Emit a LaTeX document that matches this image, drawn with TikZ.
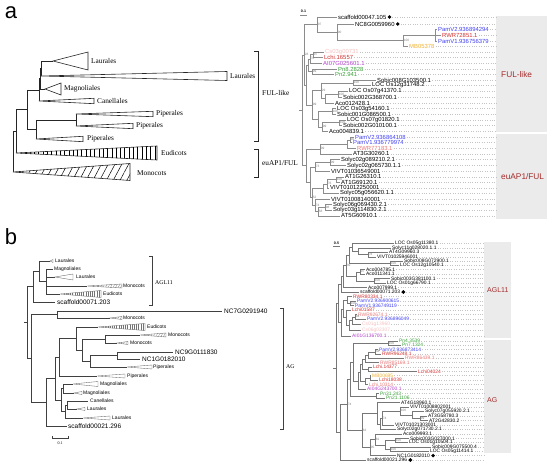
\documentclass[tikz,border=0pt]{standalone}
\usepackage{fontspec}
\setmainfont{Liberation Serif}
\newfontfamily\arialf{Liberation Sans}
\usetikzlibrary{patterns.meta}
\definecolor{cblue}{HTML}{4040F0}
\definecolor{cred}{HTML}{D03030}
\definecolor{cpink}{HTML}{E87878}
\definecolor{cpale}{HTML}{F6C0C0}
\definecolor{corange}{HTML}{F0B030}
\definecolor{cpurple}{HTML}{B040C8}
\definecolor{cgreen}{HTML}{38A038}
\definecolor{cbox}{HTML}{EBEBEB}
\definecolor{clab}{HTML}{A52A2A}
\definecolor{cbr}{HTML}{8C8C8C}
\definecolor{clead}{HTML}{C4C4C4}
\newcommand\myfs[1]{\fontsize{#1}{#1}\selectfont}
% clade: style, x, y1, y2, parent x
\newcommand\cl[5]{\draw[#1] (#2,#3) -- (#2,#4) (#5,{(#3+#4)/2}) -- (#2,{(#3+#4)/2});}
% leaf: name, parent x, y, text x, colour, text
\newcommand\lfa[6]{\draw[brA] (#2,#3) -- ({#4-0.6},#3); \node[lfA,text=#5] (#1) at (#4,#3) {#6}; \draw[leadA] ([xshift=1pt]#1.east) -- (496,#3);}
\newcommand\lfb[6]{\draw[brB] (#2,#3) -- ({#4-0.6},#3); \node[lfB,text=#5] (#1) at (#4,#3) {#6}; \draw[leadA] ([xshift=1pt]#1.east) -- (484,#3);}
\newcommand\bsv[3]{\node[bsf] at ({#1+0.6},#2) {#3};}
% triangle: style, apex x, y, base x, half height
\newcommand\tri[5]{\draw[#1] (#2,#3) -- (#4,{#3-#5}) -- (#4,{#3+#5}) -- cycle;}
\begin{document}
\begin{tikzpicture}[x=1pt,y=-1pt,
  brA/.style={draw=cbr, line width=0.45pt},
  brB/.style={draw=cbr!85!black, line width=0.45pt},
  leadA/.style={draw=clead, dotted, line width=0.4pt},
  lfA/.style={anchor=west, inner sep=0pt, font=\arialf\myfs{5.9}},
  lfB/.style={anchor=west, inner sep=0pt, font=\arialf\myfs{4.9}},
  bsf/.style={anchor=west, inner sep=0pt, font=\arialf\myfs{3.2}, text=gray},
  trA/.style={draw=black!85, line width=0.6pt},
  trB/.style={draw=black!75, line width=0.5pt},
  labA/.style={anchor=west, inner sep=0pt, font=\myfs{7.3}},
  labB/.style={anchor=west, inner sep=0pt, font=\arialf\myfs{5}},
  nmB/.style={anchor=west, inner sep=0pt, font=\arialf\myfs{6.5}},
  brk/.style={draw=black!85, line width=0.6pt},
  grpA/.style={anchor=west, inner sep=0pt, font=\arialf\myfs{8.3}, text=clab},
  grpB/.style={anchor=west, inner sep=0pt, font=\arialf\myfs{7}, text=clab},
  hv/.style={trA, fill=white, postaction={pattern={Lines[angle=90,distance=4.3pt,line width=0.5pt]}}},
  hd/.style={trA, fill=white, postaction={pattern={Lines[angle=62,distance=6pt,line width=0.5pt]}}},
  hvs/.style={trB, draw=black!60, line width=0.35pt, fill=white, postaction={pattern={Lines[angle=90,distance=2.2pt,line width=0.25pt]}, pattern color=black!55}},
  hds/.style={trB, draw=black!60, line width=0.35pt, fill=white, postaction={pattern={Lines[angle=60,distance=2.2pt,line width=0.25pt]}, pattern color=black!55}},
  pt/.style={trA, fill=white},
  pts/.style={trB, draw=black!60, line width=0.35pt, fill=white},
  dotb/.style={fill=black}
]
\useasboundingbox (0,0) rectangle (550,470);
% ---------- panel labels
\node[anchor=base, inner sep=0pt, font=\arialf\myfs{22}] (pa) at (11,19) {a};
\node[anchor=base, inner sep=0pt, font=\arialf\myfs{22}] (pb) at (11,245) {b};

% ================= panel a, left tree
\cl{trA}{41}{61}{76}{40}
\cl{trA}{40}{68.5}{89}{39}
\cl{trA}{39}{78.75}{101}{27}
\cl{trA}{76}{114}{126}{36}
\cl{trA}{36}{120}{139}{27}
\cl{trA}{27}{89.9}{129.5}{16}
\cl{trA}{16}{109.7}{153}{13}
\cl{trA}{13}{131.35}{172}{13}
\draw[trA] (41,61) -- (53,61);
\tri{pt}{53}{61}{88}{9}
\tri{pt}{41}{76}{227}{4.5}
\draw[trA] (40,89) -- (45,89);
\tri{pt}{45}{89}{61}{6}
\tri{pt}{39}{101}{94}{2.7}
\tri{pt}{76}{114}{153}{2.7}
\tri{pt}{76}{126}{133}{2.7}
\tri{pt}{36}{139}{83}{2.7}
\tri{hv}{16}{153}{157}{7}
\tri{hd}{13}{172}{130}{8.5}
\node[labA] (al1) at (91,61) {Laurales};
\node[labA] (al2) at (230,76) {Laurales};
\node[labA] (al3) at (64,89) {Magnoliales};
\node[labA] (al4) at (97,101) {Canellales};
\node[labA] (al5) at (156,114) {Piperales};
\node[labA] (al6) at (136,126) {Piperales};
\node[labA] (al7) at (87,139) {Piperales};
\node[labA] (al8) at (161,153) {Eudicots};
\node[labA] (al9) at (137,173) {Monocots};
\draw[brk] (254,51) -- (258,51) -- (258,141) -- (254,141);
\draw[brk] (254,149) -- (258,149) -- (258,177) -- (254,177);
\node[labA] (afl) at (262,93) {FUL-like};
\node[labA] (aeu) at (262,163) {euAP1/FUL};

% ================= panel a, right tree
\fill[cbox] (496,16) rectangle (547,132);
\fill[cbox] (496,134) rectangle (547,219);
\node[grpA] (fulR) at (501,75) {FUL-like};
\node[grpA] (euR) at (501,177) {euAP1/FUL};
\draw[brA] (300,15) -- (307,15);
\node[anchor=base, inner sep=0pt, font=\arialf\bfseries\myfs{3.6}] (scA) at (303.5,13) {0.1};
\lfa{aR1}{317}{17}{338}{black}{scaffold00047.105}
\lfa{aR2}{337}{24}{355}{black}{NC8G0059960}
\lfa{aR3}{435}{29}{438}{cblue}{PamV2.936894294}
\lfa{aR4}{435}{35}{442}{cred}{RWR72851.1}
\lfa{aR5}{435}{41}{438}{cblue}{PamV1.936756379}
\lfa{aR6}{403}{46}{409}{corange}{MB05378}
\lfa{aR7}{313}{52}{325}{cpale}{Cs03g00731}
\lfa{aR8}{313}{57}{324}{cred}{Lchi.16557}
\lfa{aR9}{310}{63}{323}{cpurple}{AI07G025601.1}
\lfa{aR10}{312}{69}{338}{cgreen}{Pn8.2828}
\lfa{aR11}{312}{74}{335}{cgreen}{Pn2.941}
\lfa{aR12}{353}{80}{377}{black}{Sobic008G103500.1}
\lfa{aR13}{353}{85.5}{372}{black}{LOC Os12g31748.2}
\lfa{aR14}{338}{91.5}{349}{black}{LOC Os07g41370.1}
\lfa{aR15}{338}{97}{343}{black}{Sobic002G368700.1}
\lfa{aR16}{325}{103}{335}{black}{Aco012428.1}
\lfa{aR17}{332}{108.7}{337}{black}{LOC Os03g54160.1}
\lfa{aR18}{332}{114.2}{337}{black}{Sobic001G086500.1}
\lfa{aR19}{339}{119.8}{347}{black}{LOC Os07g01820.1}
\lfa{aR20}{339}{125.4}{343}{black}{Sobic002G010100.1}
\lfa{aR21}{322}{131}{329}{black}{Aco004839.1}
\lfa{aR22}{350}{137}{355}{cblue}{PamV2.936864108}
\lfa{aR23}{350}{142.6}{353}{cblue}{PamV1.936779974}
\lfa{aR24}{347}{148.2}{357}{cpink}{RWR77183.1}
\lfa{aR25}{320}{153.8}{353}{black}{AT3G30260.1}
\lfa{aR26}{330}{159.6}{341}{black}{Solyc02g089210.2.1}
\lfa{aR27}{330}{165.5}{347}{black}{Solyc02g065730.1.1}
\lfa{aR28}{315}{171.2}{331}{black}{VIVT01036549001}
\lfa{aR29}{336}{176.9}{345}{black}{AT1G26310.1}
\lfa{aR30}{336}{182.4}{341}{black}{AT1G69120.1}
\lfa{aR31}{327}{187.9}{330}{black}{VIVT01012250001}
\lfa{aR32}{323}{193.4}{340}{black}{Solyc05g056620.1.1}
\lfa{aR33}{315}{199}{331}{black}{VIVT01008140001}
\lfa{aR34}{325}{204.6}{333}{black}{Solyc06g069430.2.1}
\lfa{aR35}{325}{210.2}{333}{black}{Solyc03g114830.2.1}
\lfa{aR36}{318}{215.8}{341}{black}{AT5G60910.1}
\fill[dotb] ([xshift=3pt]aR1.east) circle (1.9pt);
\fill[dotb] ([xshift=3pt]aR2.east) circle (1.9pt);
\cl{brA}{435}{29}{41}{403}
\cl{brA}{403}{35}{46}{337}
\cl{brA}{337}{24}{40.5}{317}
\cl{brA}{317}{17}{32.25}{304}
\cl{brA}{313}{52}{57}{310}
\cl{brA}{310}{54.5}{63}{308}
\cl{brA}{312}{69}{74}{308}
\cl{brA}{308}{58.75}{71.5}{306}
\cl{brA}{353}{80}{85.5}{321}
\cl{brA}{338}{91.5}{97}{325}
\cl{brA}{325}{94.25}{103}{321}
\cl{brA}{321}{82.75}{98.63}{312}
\cl{brA}{332}{108.7}{114.2}{318}
\cl{brA}{339}{119.8}{125.4}{322}
\cl{brA}{322}{122.6}{131}{318}
\cl{brA}{318}{111.45}{126.8}{312}
\cl{brA}{312}{90.69}{119.13}{306}
\cl{brA}{306}{65.125}{104.91}{304}
\cl{brA}{304}{24.625}{85.02}{302}
\cl{brA}{350}{137}{142.6}{347}
\cl{brA}{347}{139.8}{148.2}{320}
\cl{brA}{320}{144}{153.8}{306}
\cl{brA}{330}{159.6}{165.5}{315}
\cl{brA}{315}{162.55}{171.2}{310}
\cl{brA}{336}{176.9}{182.4}{327}
\cl{brA}{327}{179.65}{187.9}{323}
\cl{brA}{323}{183.78}{193.4}{312}
\cl{brA}{325}{204.6}{210.2}{318}
\cl{brA}{318}{207.4}{215.8}{315}
\cl{brA}{315}{199}{211.6}{312}
\cl{brA}{312}{188.59}{205.3}{310}
\cl{brA}{310}{166.88}{196.95}{306}
\cl{brA}{306}{148.9}{181.91}{302}
\cl{brA}{302}{54.82}{165.4}{299}
\bsv{317}{24.6}{97}
\bsv{337}{32.3}{90}
\bsv{403}{40.5}{100}
\bsv{304}{54.8}{28}
\bsv{313}{54.5}{97}
\bsv{310}{58.8}{78}
\bsv{312}{71.5}{99}
\bsv{353}{82.75}{100}
\bsv{321}{90.7}{29}
\bsv{338}{94.25}{100}
\bsv{312}{104.9}{99}
\bsv{332}{111.45}{100}
\bsv{339}{122.6}{100}
\bsv{322}{126.8}{99}
\bsv{350}{139.8}{92}
\bsv{320}{148.9}{99}
\bsv{330}{162.55}{99}
\bsv{315}{166.9}{73}
\bsv{336}{179.65}{100}
\bsv{327}{183.8}{76}
\bsv{312}{196.95}{52}
\bsv{325}{207.4}{98}
\bsv{318}{211.6}{58}
\bsv{315}{205.3}{74}

% ================= panel b, left tree
\cl{trB}{46}{269}{294}{39}
\cl{trB}{39}{261}{281.5}{33}
\cl{trB}{33}{271.25}{302}{27}
\cl{trB}{57}{311}{318}{31}
\cl{trB}{105}{335}{343}{82}
\cl{trB}{117}{352}{359}{90}
\cl{trB}{90}{355.5}{367}{82}
\cl{trB}{82}{339}{361.25}{76}
\cl{trB}{76}{327}{350.1}{59}
\cl{trB}{59}{338.6}{376}{55}
\cl{trB}{63}{384}{393}{61}
\cl{trB}{67}{401}{409}{65}
\cl{trB}{65}{405}{418}{61}
\cl{trB}{61}{388.5}{411.5}{55}
\cl{trB}{55}{357.3}{400}{46}
\cl{trB}{46}{378.6}{426}{31}
\cl{trB}{31}{314.5}{402.3}{27}
\cl{trB}{27}{286.6}{358.4}{24}
\draw[trB] (39,261) -- (50,261);  \tri{pts}{50}{261}{53}{1.5}
\draw[trB] (46,269) -- (53,269);
\draw[trB] (46,277) -- (55,277);  \tri{pts}{55}{277}{73}{3}
\draw[trB] (46,286) -- (87,286);  \tri{hds}{87}{286}{122}{2}
\draw[trB] (46,294) -- (60,294);  \tri{hvs}{60}{294}{101}{3.5}
\draw[trB] (33,302) -- (55,302);
\draw[trB] (57,311) -- (222,311);
\draw[trB] (57,318) -- (110,318); \tri{hds}{110}{318}{122}{1.5}
\draw[trB] (76,327) -- (98,327);  \tri{hvs}{98}{327}{145}{3.5}
\draw[trB] (105,335) -- (140,335); \tri{hds}{140}{335}{166}{2}
\draw[trB] (105,343) -- (117,343); \tri{hds}{117}{343}{128}{1.5}
\draw[trB] (117,352) -- (173,352);
\draw[trB] (117,359) -- (140,359);
\draw[trB] (90,367) -- (127,367);  \tri{pts}{127}{367}{152}{2}
\draw[trB] (59,376) -- (97,376);   \tri{pts}{97}{376}{125}{2}
\draw[trB] (63,384) -- (73,384);   \tri{pts}{73}{384}{98}{2.5}
\draw[trB] (63,393) -- (74,393);   \tri{pts}{74}{393}{82}{1.5}
\draw[trB] (67,401) -- (88,401);
\draw[trB] (67,409) -- (77,409);   \tri{pts}{77}{409}{85}{1.5}
\draw[trB] (65,418) -- (83,418);   \tri{pts}{83}{418}{110}{2}
\draw[trB] (46,426) -- (67,426);
\node[labB] (bl1) at (55,261) {Laurales};
\node[labB] (bl2) at (54,269) {Magnoliales};
\node[labB] (bl3) at (76,277) {Laurales};
\node[labB] (bl4) at (123,286) {Monocots};
\node[labB] (bl5) at (103,294) {Eudicots};
\node[nmB] (bl6) at (57,302) {scaffold00071.203};
\node[nmB] (bl7) at (224,311) {NC7G0291940};
\node[labB] (bl8) at (123,318) {Monocots};
\node[labB] (bl9) at (147,327) {Eudicots};
\node[labB] (bl10) at (168,335) {Monocots};
\node[labB] (bl11) at (130,343) {Monocots};
\node[nmB] (bl12) at (175,352) {NC9G0111830};
\node[nmB] (bl13) at (142,359) {NC1G0182010};
\node[labB] (bl14) at (153,367) {Piperales};
\node[labB] (bl15) at (127,376) {Piperales};
\node[labB] (bl16) at (100,384) {Magnoliales};
\node[labB] (bl17) at (83,393) {Magnoliales};
\node[labB] (bl18) at (90,401) {Canellales};
\node[labB] (bl19) at (87,409) {Laurales};
\node[labB] (bl20) at (112,418) {Laurales};
\node[nmB] (bl21) at (68,426) {scaffold00021.296};
\draw[trB] (149,256) -- (152,256) -- (152,305) -- (149,305);
\draw[trB] (280,308) -- (283,308) -- (283,429) -- (280,429);
\node[anchor=west, inner sep=0pt, font=\myfs{5.8}] (bagl) at (155,283) {AGL11};
\node[anchor=west, inner sep=0pt, font=\myfs{5.8}] (bag) at (286,367) {AG};
\draw[trB] (52,438) -- (68,438) (52,436.5) -- (52,439.5) (68,436.5) -- (68,439.5);
\node[anchor=north, inner sep=0pt, font=\myfs{4}] (bsc) at (60,442) {0.1};

% ================= panel b, right tree
\fill[cbox] (484,242) rectangle (511,338);
\fill[cbox] (484,340) rectangle (511,453);
\node[grpB] (aglR) at (487,290) {AGL11};
\node[grpB] (agR) at (487,400) {AG};
\draw[brB] (333,246) -- (340,246);
\node[anchor=base, inner sep=0pt, font=\arialf\bfseries\myfs{3.6}] (scB) at (336.5,244.5) {0.5};
\lfb{bR1}{352}{243}{395}{black}{LOC Os05g11380.1}
\lfb{bR2}{358}{248}{392}{black}{Solyc11g028020.1.1}
\lfb{bR3}{368}{252}{389}{black}{AT4G09960.3}
\lfb{bR4}{368}{257}{377}{black}{VIVT01025946001}
\lfb{bR5}{390}{261}{404}{black}{Sobic008G072900.1}
\lfb{bR6}{390}{265.5}{400}{black}{LOC Os12g10540.1}
\lfb{bR7}{360}{269.5}{366}{black}{Aco004785.1}
\lfb{bR8}{360}{274}{366}{black}{Aco011341.1}
\lfb{bR9}{374}{278.5}{391}{black}{Sobic003G381100.1}
\lfb{bR10}{374}{283}{387}{black}{LOC Os01g66790.1}
\lfb{bR11}{343}{287.5}{368}{black}{Aco007999.1}
\lfb{bR12}{341}{292}{360}{black}{scaffold00071.203}
\lfb{bR13}{347}{296.5}{353}{cred}{RWR80334.1}
\lfb{bR14}{350}{301}{357}{cblue}{PamV2.936900615}
\lfb{bR15}{350}{305.5}{355}{cblue}{PamV1.936749119}
\lfb{bR16}{346}{310}{352}{cred}{Lchi01587}
\lfb{bR17}{355}{314.5}{358}{cpink}{RWR92674.1}
\lfb{bR18}{355}{319}{367}{cblue}{PamV2.936896049}
\lfb{bR19}{352}{324}{362}{cpale}{Cs01g13960}
\lfb{bR20}{349}{330}{362}{cpale}{Cs06g02307}
\lfb{bR21}{341}{336}{352}{cpurple}{AI01G136700.1}
\lfb{bR22}{388}{341}{399}{cgreen}{Pn4.3539}
\lfb{bR23}{388}{345.3}{402}{cgreen}{Pn7.1324}
\lfb{bR24}{375}{349.6}{379}{cblue}{PamV2.936873414}
\lfb{bR25}{375}{354}{382}{cred}{RWR96248.1}
\lfb{bR26}{368}{358.3}{405}{cpink}{RWR86439.1}
\lfb{bR27}{365}{362.6}{380}{cpink}{RWR85169.1}
\lfb{bR28}{368}{367}{373}{cred}{Lchi.14377}
\lfb{bR29}{368}{371.3}{418}{cred}{Lchi04024}
\lfb{bR30}{370}{375.6}{372}{corange}{MB00695}
\lfb{bR31}{370}{380}{379}{cred}{Lchi18038}
\lfb{bR32}{365}{384.5}{369}{cpink}{Lchi.10314}
\lfb{bR33}{358}{389}{367}{cpurple}{AI04G243700.1}
\lfb{bR34}{376}{393.5}{380}{cgreen}{Pn31.243}
\lfb{bR35}{376}{398}{386}{cgreen}{Pn21.1106}
\lfb{bR36}{377}{402.5}{401}{black}{AT4G18960.1}
\lfb{bR37}{400}{407}{410}{black}{VIVT01008802001}
\lfb{bR38}{412}{411.5}{425}{black}{Solyc07g055920.2.1}
\lfb{bR39}{420}{416}{428}{black}{AT3G58780.3}
\lfb{bR40}{420}{420.5}{429}{black}{AT2G42830.2}
\lfb{bR41}{382}{425}{395}{black}{VIVT01021303001}
\lfb{bR42}{380}{429.5}{397}{black}{Solyc02g071730.2.1}
\lfb{bR43}{375}{434}{403}{black}{Aco009993.1}
\lfb{bR44}{395}{438.3}{410}{black}{Sobic003G027000.1}
\lfb{bR45}{395}{442.6}{409}{black}{LOC Os01g10504.1}
\lfb{bR46}{390}{447}{432}{black}{Sobic009G075500.4}
\lfb{bR47}{390}{451.3}{430}{black}{LOC Os05g11414.1}
\lfb{bR48}{370}{455.6}{397}{black}{NC1G0182010}
\lfb{bR49}{340}{460}{367}{black}{scaffold00021.296}
\fill[dotb] ([xshift=3pt]bR12.east) circle (1.9pt);
\fill[dotb] ([xshift=3pt]bR48.east) circle (1.9pt);
\fill[dotb] ([xshift=3pt]bR49.east) circle (1.9pt);
\cl{brB}{368}{252}{257}{358}
\cl{brB}{358}{248}{254.5}{352}
\cl{brB}{352}{243}{251.25}{349}
\cl{brB}{390}{261}{265.5}{349}
\cl{brB}{349}{247.125}{263.25}{346}
\cl{brB}{360}{269.5}{274}{356}
\cl{brB}{374}{278.5}{283}{356}
\cl{brB}{356}{271.75}{280.75}{346}
\cl{brB}{346}{255.19}{276.25}{343}
\cl{brB}{343}{265.72}{287.5}{341}
\cl{brB}{341}{276.61}{292}{338}
\cl{brB}{350}{301}{305.5}{347}
\cl{brB}{347}{296.5}{303.25}{343}
\cl{brB}{355}{314.5}{319}{352}
\cl{brB}{352}{316.75}{324}{349}
\cl{brB}{349}{320.38}{330}{346}
\cl{brB}{346}{310}{325.19}{343}
\cl{brB}{343}{299.88}{317.59}{341}
\cl{brB}{341}{308.73}{336}{338}
\cl{brB}{338}{284.3}{322.37}{336}
\cl{brB}{388}{341}{345.3}{353}
\cl{brB}{375}{349.6}{354}{368}
\cl{brB}{368}{351.8}{358.3}{365}
\cl{brB}{365}{355.05}{362.6}{362}
\cl{brB}{368}{367}{371.3}{362}
\cl{brB}{362}{358.83}{369.15}{360}
\cl{brB}{370}{375.6}{380}{365}
\cl{brB}{365}{377.8}{384.5}{360}
\cl{brB}{360}{363.99}{381.15}{358}
\cl{brB}{358}{372.57}{389}{353}
\cl{brB}{353}{343.15}{380.79}{350}
\cl{brB}{376}{393.5}{398}{350}
\cl{brB}{350}{361.97}{395.75}{347}
\cl{brB}{420}{416}{420.5}{412}
\cl{brB}{412}{411.5}{418.25}{400}
\cl{brB}{400}{407}{414.88}{382}
\cl{brB}{382}{410.94}{425}{380}
\cl{brB}{380}{417.97}{429.5}{377}
\cl{brB}{377}{402.5}{423.73}{362}
\cl{brB}{395}{438.3}{442.6}{385}
\cl{brB}{390}{447}{451.3}{385}
\cl{brB}{385}{440.45}{449.15}{375}
\cl{brB}{375}{434}{444.8}{370}
\cl{brB}{370}{439.4}{455.6}{362}
\cl{brB}{362}{413.12}{447.5}{347}
\cl{brB}{347}{378.86}{430.31}{340}
\cl{brB}{340}{404.59}{460}{336}
\cl{brB}{336}{303.34}{432.3}{333}
\bsv{368}{254.5}{78}
\bsv{390}{263.3}{100}
\bsv{360}{271.8}{97}
\bsv{374}{280.8}{100}
\bsv{346}{265.7}{39}
\bsv{350}{303.3}{100}
\bsv{355}{316.8}{94}
\bsv{388}{343.2}{100}
\bsv{375}{351.8}{58}
\bsv{400}{410.9}{100}
\bsv{420}{418.3}{99}
\bsv{382}{418}{74}
\bsv{395}{440.5}{100}
\bsv{390}{449.2}{100}
\bsv{375}{439.4}{81}
\bsv{370}{447.5}{95}
\bsv{362}{430.3}{63}
\bsv{347}{404.6}{74}
\end{tikzpicture}
\end{document}
